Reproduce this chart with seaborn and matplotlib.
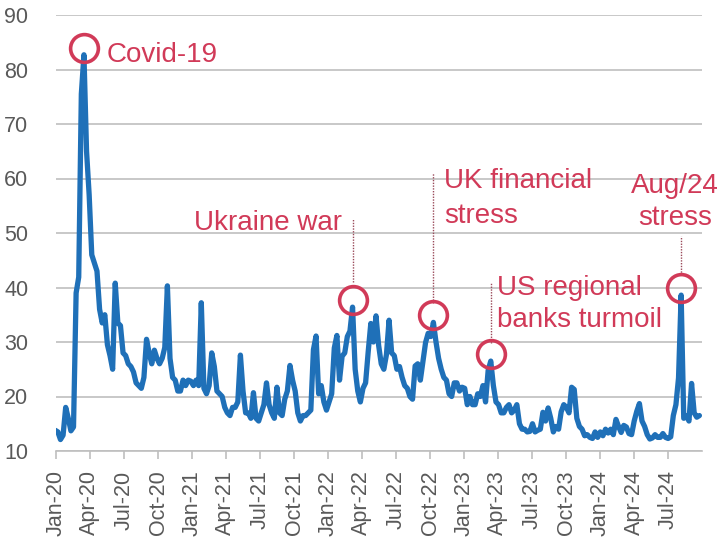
import matplotlib
matplotlib.use("Agg")
import matplotlib.pyplot as plt
import matplotlib.dates as mdates
import seaborn as sns
import pandas as pd
import numpy as np

# Weekly VIX readings (week starting Monday)
vix_2020 = [13.8, 13.5, 12.1, 12.9, 18.0, 16.0, 13.7, 14.4, 39.0, 41.9, 75.5, 82.7, 65.0,
            57.0, 46.0, 44.5, 43.0, 36.0, 33.5, 35.0, 29.5, 27.5, 25.0, 40.8, 33.5, 33.0,
            28.0, 27.5, 26.0, 25.5, 24.5, 22.5, 22.0, 21.5, 23.5, 30.5, 28.0, 26.0, 28.5,
            27.0, 26.0, 27.0, 29.0, 40.3, 27.0, 23.5, 23.0, 21.0, 21.0, 23.0, 22.0, 23.0]
vix_2021 = [22.8, 22.0, 23.0, 22.0, 37.2, 21.5, 20.5, 22.0, 28.0, 25.5, 21.0, 20.5, 20.0,
            18.0, 17.0, 16.5, 18.0, 18.0, 19.0, 27.6, 21.0, 17.0, 17.0, 16.0, 20.7, 16.0,
            15.5, 17.0, 18.5, 22.5, 18.5, 17.0, 16.0, 21.7, 17.0, 16.5, 19.5, 21.0, 25.7,
            23.0, 21.0, 17.0, 15.5, 16.5, 16.5, 17.0, 17.5, 28.6, 31.1, 20.5, 22.0, 19.0, 17.5]
vix_2022 = [19.0, 20.5, 28.9, 31.2, 23.0, 27.4, 28.0, 31.0, 32.0, 36.4, 25.0, 21.0, 19.0,
            21.5, 22.5, 28.2, 33.4, 30.0, 34.8, 29.4, 26.0, 25.0, 27.7, 34.0, 28.0, 27.5,
            25.0, 25.5, 23.5, 22.0, 21.5, 20.0, 19.5, 25.6, 26.0, 23.0, 26.5, 29.9, 31.6,
            31.0, 33.6, 30.0, 27.0, 25.0, 23.5, 23.0, 20.5, 20.0, 22.5, 22.5, 21.0, 21.7]
vix_2023 = [21.5, 18.5, 20.0, 18.5, 18.5, 20.5, 20.0, 22.0, 19.0, 24.8, 26.5, 22.0, 19.0,
            18.5, 17.0, 17.0, 18.0, 18.5, 17.0, 17.5, 18.5, 15.0, 14.0, 14.0, 13.5, 13.6,
            15.0, 13.5, 13.8, 14.0, 17.1, 15.5, 17.9, 16.0, 13.5, 14.5, 14.0, 17.2, 18.5,
            18.0, 17.0, 21.7, 21.3, 16.0, 14.5, 14.0, 12.8, 13.0, 12.5, 12.3, 13.5, 12.5]
vix_2024 = [13.5, 12.8, 14.0, 13.3, 14.0, 13.0, 15.8, 14.5, 13.4, 14.7, 14.4, 13.2, 13.0,
            15.5, 17.3, 18.7, 15.5, 14.5, 13.0, 12.2, 12.4, 13.0, 12.5, 12.5, 13.2, 12.5,
            12.3, 12.6, 16.5, 18.5, 23.4, 38.6, 16.0, 16.5, 15.5, 22.4, 17.0, 16.2, 16.5]

values = vix_2020 + vix_2021 + vix_2022 + vix_2023 + vix_2024
dates = pd.date_range("2019-12-30", periods=len(values), freq="7D")
df = pd.DataFrame({"date": dates, "vix": values})

# Events
event_names = ["Covid-19", "Ukraine war", "UK financial stress", "US regional banks turmoil", "Aug/24 stress"]
event_dates = ["2020-03-16", "2022-03-07", "2022-10-10", "2023-03-13", "2024-08-05"]

blue = "#1F70B8"
red = "#D13A58"
grey_txt = "#595959"
grid_c = "#BFBFBF"
lead_c = "#9A4A5A"

sns.set_theme(style="white")
plt.rcParams["font.family"] = ["Liberation Sans", "DejaVu Sans"]

fig = plt.figure(figsize=(7.21, 5.37), dpi=100)
ax = fig.add_axes([56 / 721, 1 - 451 / 537, (702 - 56) / 721, (451 - 15) / 537])

sns.lineplot(data=df, x="date", y="vix", ax=ax, color=blue, linewidth=3.8, zorder=3)

ax.set_ylim(10, 90)
ax.set_xlim(pd.Timestamp("2020-01-01"), pd.Timestamp("2024-09-30"))
ax.set_yticks(range(10, 91, 10))
ax.yaxis.grid(True, color=grid_c, linewidth=1.2)
ax.xaxis.grid(False)
for s in ["left", "right", "top"]:
    ax.spines[s].set_visible(False)
ax.spines["bottom"].set_color(grid_c)
ax.spines["bottom"].set_linewidth(1.2)

ax.xaxis.set_major_locator(mdates.MonthLocator(bymonth=[1, 4, 7, 10]))
ax.xaxis.set_major_formatter(mdates.DateFormatter("%b-%y"))
ax.tick_params(axis="x", which="major", bottom=True, length=6, width=1.2, color=grid_c,
               labelsize=15.5, labelcolor=grey_txt, pad=8, labelrotation=90)
ax.tick_params(axis="y", left=False, labelsize=15.5, labelcolor=grey_txt, pad=14)
ax.set_xlabel("")
ax.set_ylabel("")

# circles around event peaks
s = df.set_index("date")["vix"]
for d in event_dates:
    dt = pd.Timestamp(d)
    v = s.loc[dt]
    ax.plot([dt], [v + 1.3], marker="o", markersize=20, markerfacecolor="none",
            markeredgecolor=red, markeredgewidth=2.6, zorder=5, clip_on=False)

fs = 20
# Covid
ax.text(pd.Timestamp("2020-05-16"), 81.4, "Covid-19", color=red, fontsize=fs, ha="left", va="baseline")
# Ukraine
ax.text(pd.Timestamp("2022-02-06"), 50.55, "Ukraine war", color=red, fontsize=fs, ha="right", va="baseline")
ax.plot([pd.Timestamp(event_dates[1])] * 2, [41.0, 52.6], color=lead_c, linestyle=(0, (1, 1)), linewidth=1)
# UK
ax.text(pd.Timestamp("2022-11-08"), 58.3, "UK financial", color=red, fontsize=fs, ha="left", va="baseline")
ax.text(pd.Timestamp("2022-11-08"), 51.8, "stress", color=red, fontsize=fs, ha="left", va="baseline")
ax.plot([pd.Timestamp(event_dates[2])] * 2, [37.2, 61.0], color=lead_c, linestyle=(0, (1, 1)), linewidth=1)
# US
ax.text(pd.Timestamp("2023-03-30"), 38.6, "US regional", color=red, fontsize=fs, ha="left", va="baseline")
ax.text(pd.Timestamp("2023-03-30"), 32.75, "banks turmoil", color=red, fontsize=fs, ha="left", va="baseline")
ax.plot([pd.Timestamp(event_dates[3])] * 2, [29.8, 41.0], color=lead_c, linestyle=(0, (1, 1)), linewidth=1)
# Aug 24
ax.text(pd.Timestamp("2024-07-19"), 57.3, "Aug/24", color=red, fontsize=fs, ha="center", va="baseline", clip_on=False)
ax.text(pd.Timestamp("2024-07-19"), 51.5, "stress", color=red, fontsize=fs, ha="center", va="baseline", clip_on=False)
ax.plot([pd.Timestamp(event_dates[4])] * 2, [42.3, 49.4], color=lead_c, linestyle=(0, (1, 1)), linewidth=1)

fig.savefig("out.png", dpi=100)
